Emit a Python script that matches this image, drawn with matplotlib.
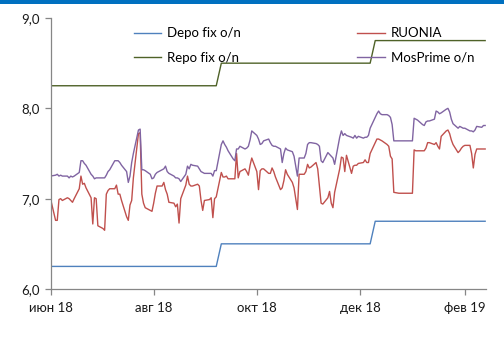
import numpy as np
import pandas as pd
import matplotlib
matplotlib.use('Agg')
import matplotlib.pyplot as plt
from matplotlib.patches import Rectangle

plt.rcParams['font.family'] = ['Lato', 'DejaVu Sans']

# Daily (business day) rates, %
dates = pd.bdate_range('2018-06-01', '2019-02-13')

ruonia = [
    7.00,
    6.76, 6.76, 6.99, 7.00, 6.98,
    7.01, 7.00, 6.98, 6.96, 7.00,
    7.11, 7.25, 7.16, 7.17, 7.12,
    7.01, 6.72, 7.01, 7.00, 6.70,
    6.67, 6.65, 7.05, 7.09, 7.11,
    7.11, 7.15, 7.05, 7.05, 6.98,
    6.80, 6.76, 6.93, 6.98, 7.23,
    7.72, 7.73, 7.05, 6.95, 6.90,
    6.87, 6.86, 6.95, 7.06, 7.14,
    7.14, 7.18, 7.10, 7.05, 6.96,
    6.95, 6.91, 6.94, 6.73, 7.00,
    7.15, 7.25, 7.16, 7.14, 7.14,
    7.16, 7.14, 6.98, 6.87, 6.98,
    6.99, 7.01, 6.79, 7.00, 7.02,
    7.29, 7.24, 7.24, 7.25, 7.22,
    7.22, 7.22, 7.50, 7.23, 7.30,
    7.33, 7.30, 7.26, 7.37, 7.45,
    7.30, 7.10, 7.31, 7.33, 7.33,
    7.28, 7.28, 7.34, 7.30, 7.24,
    7.10, 7.12, 7.20, 7.32, 7.27,
    7.18, 7.12, 7.00, 6.88, 7.27,
    7.27, 7.30, 7.38, 7.34, 7.35,
    7.40, 7.33, 7.14, 6.95, 6.94,
    7.01, 7.08, 6.95, 6.90, 7.07,
    7.33, 7.46, 7.45, 7.30, 7.48,
    7.28, 7.36, 7.37, 7.37, 7.39,
    7.40, 7.43, 7.40, 7.40, 7.50,
    7.62, 7.66, 7.66, 7.65, 7.64,
    7.60, 7.58, 7.47, 7.44, 7.07,
    7.06, 7.06, 7.06, 7.06, 7.06,
    7.06, 7.06, 7.54, 7.53, 7.53,
    7.53, 7.53, 7.56, 7.62, 7.62,
    7.60, 7.62, 7.58, 7.55, 7.69,
    7.75, 7.76, 7.72, 7.65, 7.60,
    7.51, 7.53, 7.56, 7.58, 7.59,
    7.59, 7.50, 7.34, 7.49, 7.55,
    7.55, 7.55, 7.55,
]

mosprime = [
    7.25,
    7.26, 7.27, 7.25, 7.26, 7.25,
    7.25, 7.23, 7.25, 7.24, 7.25,
    7.29, 7.42, 7.42, 7.39, 7.37,
    7.27, 7.25, 7.22, 7.23, 7.23,
    7.23, 7.23, 7.26, 7.30, 7.32,
    7.42, 7.42, 7.42, 7.40, 7.37,
    7.30, 7.18, 7.25, 7.40, 7.50,
    7.76, 7.77, 7.32, 7.32, 7.31,
    7.27, 7.22, 7.23, 7.27, 7.29,
    7.32, 7.33, 7.36, 7.30, 7.28,
    7.25, 7.23, 7.23, 7.22, 7.19,
    7.27, 7.36, 7.33, 7.38, 7.37,
    7.36, 7.33, 7.30, 7.29, 7.28,
    7.28, 7.28, 7.25, 7.31, 7.31,
    7.60, 7.64, 7.60, 7.57, 7.53,
    7.44, 7.42, 7.55, 7.55, 7.58,
    7.55, 7.56, 7.58, 7.65, 7.75,
    7.70, 7.66, 7.60, 7.61, 7.64,
    7.66, 7.62, 7.59, 7.58, 7.58,
    7.55, 7.40, 7.50, 7.56, 7.54,
    7.52, 7.47, 7.36, 7.25, 7.45,
    7.45, 7.50, 7.60, 7.62, 7.62,
    7.61, 7.60, 7.58, 7.42, 7.40,
    7.51, 7.49, 7.47, 7.45, 7.38,
    7.68, 7.75, 7.70, 7.72, 7.70,
    7.68, 7.67, 7.70, 7.67, 7.69,
    7.67, 7.68, 7.68, 7.70, 7.78,
    7.90, 7.94, 7.97, 7.94, 7.93,
    7.93, 7.92, 7.90, 7.82, 7.64,
    7.64, 7.64, 7.64, 7.64, 7.64,
    7.64, 7.64, 7.89, 7.88, 7.87,
    7.82, 7.81, 7.85, 7.86, 7.86,
    7.88, 7.97, 7.96, 7.94, 7.95,
    7.99, 8.00, 7.96, 7.88, 7.83,
    7.78, 7.80, 7.79, 7.78, 7.78,
    7.75, 7.75, 7.74, 7.76, 7.80,
    7.79, 7.81, 7.81,
]

# Fixed-rate corridor, changes with the key rate
change_dates = pd.to_datetime(['2018-09-10', '2018-12-10'])
depo_levels = [6.25, 6.50, 6.75]
repo_levels = [8.25, 8.50, 8.75]

tick_dates = pd.to_datetime(['2018-06-01', '2018-08-01', '2018-10-01',
                             '2018-12-01', '2019-02-01'])
tick_labels = ['июн 18', 'авг 18', 'окт 18', 'дек 18', 'фев 19']
y_ticks = [6.0, 7.0, 8.0, 9.0]

regime = np.searchsorted(change_dates, dates, side='right')
depo = np.array(depo_levels)[regime]
repo = np.array(repo_levels)[regime]

fig = plt.figure(figsize=(5.04, 3.51), dpi=100)
fig.patches.append(Rectangle((0, 1 - 4 / 351), 1, 4 / 351, transform=fig.transFigure,
                             facecolor='#0070C0', edgecolor='none'))
ax = fig.add_axes([50.5 / 504, 62 / 351, (486 - 50.5) / 504, (289 - 18) / 351])

ax.plot(dates, depo, color='#4F81BD', lw=1.0, label='Depo fix o/n')
ax.plot(dates, repo, color='#4F6228', lw=1.0, label='Repo fix o/n')
ax.plot(dates, ruonia, color='#C0504D', lw=1.0, label='RUONIA')
ax.plot(dates, mosprime, color='#8064A2', lw=1.0, label='MosPrime o/n')

ax.set_xlim(pd.Timestamp('2018-06-01'), pd.Timestamp('2019-02-13 12:00'))
ax.set_ylim(6.0, 9.0)
ax.set_xticks(tick_dates)
ax.set_xticklabels(tick_labels)
ax.set_yticks(y_ticks)
ax.set_yticklabels([f'{v:.1f}'.replace('.', ',') for v in y_ticks])

for side in ('top', 'right'):
    ax.spines[side].set_visible(False)
for side in ('left', 'bottom'):
    ax.spines[side].set_color('#868686')
    ax.spines[side].set_linewidth(0.9)
ax.tick_params(axis='both', direction='out', length=4, width=0.9, color='#868686',
               labelsize=9.5, labelcolor='#1a1a1a')
ax.tick_params(axis='x', pad=5)
ax.tick_params(axis='y', pad=4)

ax.legend(loc='upper left', bbox_to_anchor=(0.17, 1.0), ncol=2, frameon=False,
          fontsize=9.5, handlelength=2.1, handletextpad=0.45, columnspacing=8.8,
          labelspacing=0.95, borderaxespad=0.3)

fig.savefig('out.png', dpi=100)
